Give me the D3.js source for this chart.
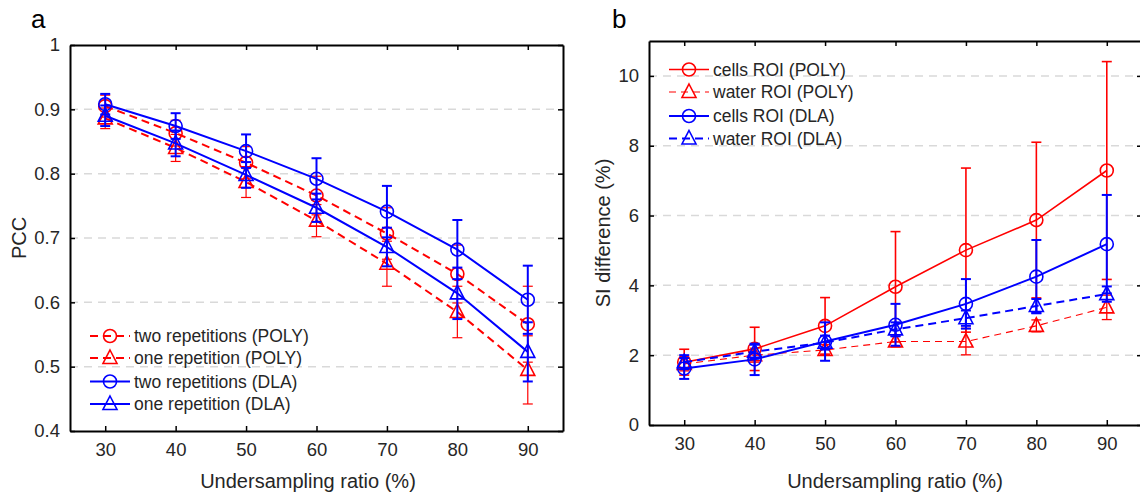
<!DOCTYPE html>
<html>
<head>
<meta charset="utf-8">
<script src="https://cdn.jsdelivr.net/npm/d3@7"></script>
<style>
  body { margin: 0; background: #fff; }
  svg { font-family: "Liberation Sans", Arial, sans-serif; }
</style>
</head>
<body>
<svg id="chart" width="1140" height="495"></svg>
<script>
// undersampling ratios (x)
var ratios = [30, 40, 50, 60, 70, 80, 90];

// panel a: PCC
var polyTwo    = [0.905, 0.863, 0.817, 0.766, 0.707, 0.644, 0.566],
    polyTwoSd  = [0.017, 0.020, 0.025, 0.030, 0.040, 0.045, 0.059],
    polyOne    = [0.886, 0.840, 0.787, 0.727, 0.660, 0.585, 0.495],
    polyOneSd  = [0.016, 0.021, 0.024, 0.025, 0.035, 0.040, 0.053],
    dlaTwo     = [0.908, 0.874, 0.835, 0.792, 0.741, 0.682, 0.604],
    dlaTwoSd   = [0.016, 0.020, 0.026, 0.032, 0.040, 0.046, 0.053],
    dlaOne     = [0.890, 0.847, 0.798, 0.747, 0.686, 0.614, 0.523],
    dlaOneSd   = [0.016, 0.020, 0.020, 0.022, 0.030, 0.040, 0.046];
var yTicksA = [0.4, 0.5, 0.6, 0.7, 0.8, 0.9, 1];

// panel b: SI difference (%)
var cellsPoly    = [1.80, 2.18, 2.84, 3.96, 5.01, 5.87, 7.29],
    cellsPolySd  = [0.37, 0.62, 0.81, 1.58, 2.35, 2.23, 3.12],
    waterPoly    = [1.75, 2.00, 2.15, 2.39, 2.39, 2.84, 3.37],
    waterPolySd  = [0.20, 0.20, 0.15, 0.15, 0.38, 0.17, 0.35],
    cellsDla     = [1.62, 1.88, 2.39, 2.87, 3.47, 4.25, 5.18],
    cellsDlaSd   = [0.30, 0.45, 0.55, 0.60, 0.71, 1.05, 1.41],
    waterDla     = [1.80, 2.10, 2.36, 2.74, 3.06, 3.41, 3.75],
    waterDlaSd   = [0.20, 0.20, 0.20, 0.20, 0.22, 0.20, 0.22];
var yTicksB = [0, 2, 4, 6, 8, 10];

var RED = "#ff0000", BLUE = "#0000ff";

var svg = d3.select("#chart");

function panel(opt) {
  var x = d3.scaleLinear().domain([25, 95]).range([opt.left, opt.right]),
      y = d3.scaleLinear().domain(opt.ydomain).range([opt.bottom, opt.top]);
  var g = svg.append("g");

  // dashed grid
  g.selectAll(".grid").data(opt.yticks.filter(function (t) {
      return t > opt.ydomain[0] && t < opt.ydomain[1]; }))
    .enter().append("line")
      .attr("x1", opt.left).attr("x2", opt.right)
      .attr("y1", function (d) { return y(d); }).attr("y2", function (d) { return y(d); })
      .attr("stroke", "#d9d9d9").attr("stroke-width", 1.5)
      .attr("stroke-dasharray", "8,6");

  // axes, ticks inward on all sides
  g.append("g").attr("transform", "translate(0," + opt.bottom + ")")
      .call(d3.axisBottom(x).tickValues(ratios).tickSizeInner(-5).tickSizeOuter(0).tickPadding(12));
  g.append("g").attr("transform", "translate(0," + opt.top + ")")
      .call(d3.axisTop(x).tickValues(ratios).tickSizeInner(-5).tickSizeOuter(0).tickFormat(""));
  g.append("g").attr("transform", "translate(" + opt.left + ",0)")
      .call(d3.axisLeft(y).tickValues(opt.yticks).tickSizeInner(-5).tickSizeOuter(0).tickPadding(10).tickFormat(opt.fmt));
  g.append("g").attr("transform", "translate(" + opt.right + ",0)")
      .call(d3.axisRight(y).tickValues(opt.yticks).tickSizeInner(-5).tickSizeOuter(0).tickFormat(""));
  g.selectAll(".domain").attr("stroke", "#000").attr("stroke-width", 2);
  g.selectAll(".tick line").attr("stroke", "#000").attr("stroke-width", 1.5);
  g.selectAll(".tick text").attr("font-size", 18.5).attr("fill", "#262626")
      .attr("font-family", "Liberation Sans, Arial, sans-serif");

  // series
  opt.series.forEach(function (s) {
    var pts = ratios.map(function (r, i) { return {x: r, y: s.values[i], sd: s.sd[i]}; });
    var sg = g.append("g");
    // error bars
    pts.forEach(function (p) {
      var cx = x(p.x), y1 = y(p.y - p.sd), y2 = y(p.y + p.sd);
      sg.append("line").attr("x1", cx).attr("x2", cx).attr("y1", y1).attr("y2", y2)
        .attr("stroke", s.color).attr("stroke-width", s.ew);
      [y1, y2].forEach(function (yy) {
        sg.append("line").attr("x1", cx - 5).attr("x2", cx + 5).attr("y1", yy).attr("y2", yy)
          .attr("stroke", s.color).attr("stroke-width", s.ew);
      });
    });
    sg.append("path").datum(pts)
      .attr("d", d3.line().x(function (d) { return x(d.x); }).y(function (d) { return y(d.y); }))
      .attr("fill", "none").attr("stroke", s.color).attr("stroke-width", s.lw)
      .attr("stroke-dasharray", s.dash || null);
    pts.forEach(function (p) { marker(sg, s, x(p.x), y(p.y)); });
  });

  // legend
  opt.series.forEach(function (s, i) {
    var ly = opt.legend.y[i], lx = opt.legend.x;
    g.append("line").attr("x1", lx).attr("x2", lx + 40).attr("y1", ly).attr("y2", ly)
      .attr("stroke", s.color).attr("stroke-width", s.lw)
      .attr("stroke-dasharray", s.dash || null);
    marker(g, s, lx + 20, ly);
    g.append("text").attr("x", lx + 44).attr("y", ly).attr("dy", "0.35em")
      .attr("font-size", 17.5).attr("fill", "#262626").text(s.name);
  });

  // axis labels
  g.append("text").attr("x", opt.xlabelX).attr("y", 488)
    .attr("text-anchor", "middle").attr("font-size", 20).attr("fill", "#262626")
    .text("Undersampling ratio (%)");
  g.append("text")
    .attr("transform", "translate(" + opt.ylabelX + "," + ((opt.top + opt.bottom) / 2) + ") rotate(-90)")
    .attr("text-anchor", "middle").attr("font-size", 20).attr("fill", "#262626")
    .text(opt.ylabel);
  g.append("text").attr("x", opt.tag[0]).attr("y", opt.tag[1])
    .attr("font-size", 26).attr("fill", "#000").text(opt.tagText);
}

function marker(sel, s, cx, cy) {
  if (s.shape === "circle") {
    sel.append("circle").attr("cx", cx).attr("cy", cy).attr("r", 6.5)
      .attr("fill", "none").attr("stroke", s.color).attr("stroke-width", 1.6);
  } else {
    sel.append("path")
      .attr("d", "M" + cx + "," + (cy - 8) + "L" + (cx + 7) + "," + (cy + 5.5) +
                 "L" + (cx - 7) + "," + (cy + 5.5) + "Z")
      .attr("fill", "none").attr("stroke", s.color).attr("stroke-width", 1.6);
  }
}

panel({
  left: 70, right: 563, top: 45, bottom: 431,
  ydomain: [0.4, 1], yticks: yTicksA,
  fmt: function (d) { return d === 1 ? "1" : d3.format(".1f")(d); },
  ylabel: "PCC", ylabelX: 26, xlabelX: 308,
  tag: [31, 28], tagText: "a",
  legend: {x: 90, y: [336, 358, 381.5, 404]},
  series: [
    {name: "two repetitions (POLY)", values: polyTwo, sd: polyTwoSd, color: RED, shape: "circle", lw: 2, ew: 1.2, dash: "8,5"},
    {name: "one repetition (POLY)", values: polyOne, sd: polyOneSd, color: RED, shape: "tri", lw: 2, ew: 1.2, dash: "8,5"},
    {name: "two repetitions (DLA)", values: dlaTwo, sd: dlaTwoSd, color: BLUE, shape: "circle", lw: 2, ew: 2},
    {name: "one repetition (DLA)", values: dlaOne, sd: dlaOneSd, color: BLUE, shape: "tri", lw: 2, ew: 2}
  ]
});

panel({
  left: 649, right: 1142, top: 41, bottom: 425,
  ydomain: [0, 11], yticks: yTicksB,
  fmt: d3.format("d"),
  ylabel: "SI difference (%)", ylabelX: 610, xlabelX: 895,
  tag: [612, 28], tagText: "b",
  legend: {x: 669, y: [69.5, 92, 116, 138.5]},
  series: [
    {name: "cells ROI (POLY)", values: cellsPoly, sd: cellsPolySd, color: RED, shape: "circle", lw: 1.6, ew: 1.6},
    {name: "water ROI (POLY)", values: waterPoly, sd: waterPolySd, color: RED, shape: "tri", lw: 1.1, ew: 1.3, dash: "7,5"},
    {name: "cells ROI (DLA)", values: cellsDla, sd: cellsDlaSd, color: BLUE, shape: "circle", lw: 2, ew: 2},
    {name: "water ROI (DLA)", values: waterDla, sd: waterDlaSd, color: BLUE, shape: "tri", lw: 2, ew: 2, dash: "8,5"}
  ]
});
</script>
</body>
</html>
